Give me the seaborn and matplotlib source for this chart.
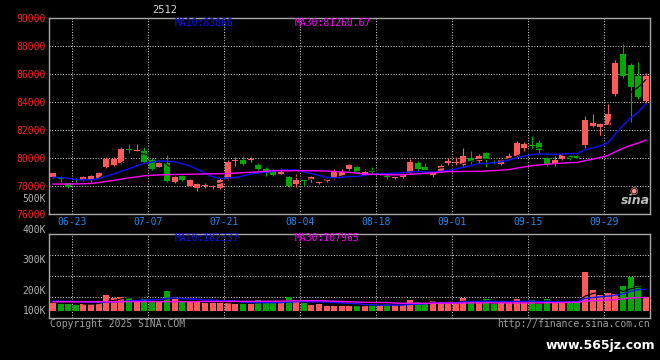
import numpy as np
import pandas as pd
import matplotlib
matplotlib.use("Agg")
import matplotlib.pyplot as plt
import seaborn as sns

# ---------------- data ----------------
opens = [78620, 78590, 78190, 78450, 78430, 78430, 78600, 79380, 79520, 79620,
         80640, 80520, 80520, 79860, 79380, 79670, 78310, 78740, 78020, 77880,
         77980, 77910, 77830, 78500, 79790, 79880, 79880, 79500, 79210, 79140,
         78880, 78640, 78140, 78430, 78430, 78240, 78380, 78550, 78740, 79210,
         79380, 78790, 79020, 78790, 78710, 78580, 78620, 78900, 79620, 79330,
         78810, 79100, 79670, 79620, 79480, 80000, 79810, 80360, 79710, 79570,
         79950, 80140, 80710, 80930, 81070, 80020, 79620, 79930, 80120, 80140,
         80900, 82290, 82240, 82380, 84600, 87430, 86640, 85860, 84050]
highs = [78950, 78710, 78250, 78550, 78740, 78800, 79020, 80050, 80050, 80780,
         81000, 81000, 80790, 79980, 79700, 80220, 78740, 78800, 78500, 78250,
         78200, 78070, 78550, 79830, 80050, 80140, 80050, 79620, 79380, 79200,
         79290, 78790, 78880, 78450, 78680, 78360, 78550, 79190, 79190, 79600,
         79430, 79190, 79330, 78950, 78900, 78670, 78900, 79950, 79810, 79620,
         79050, 79570, 79980, 80050, 80710, 80480, 80290, 80430, 79860, 79950,
         80330, 81240, 81140, 81570, 81290, 80050, 80140, 80330, 80190, 80190,
         83000, 83140, 82520, 83860, 87000, 88140, 86810, 86860, 86050]
lows = [78580, 78260, 77880, 78300, 78350, 78310, 78550, 79310, 79450, 79550,
        80330, 80500, 79700, 79140, 79330, 78260, 78190, 78380, 77980, 77670,
        77840, 77760, 77800, 78450, 79450, 79500, 79700, 79140, 78740, 78740,
        78860, 77930, 77930, 77980, 78310, 78140, 78260, 78480, 78670, 79140,
        78900, 78760, 78950, 78760, 78480, 78480, 78550, 78830, 79020, 79150,
        78670, 79020, 79500, 79430, 79380, 79570, 79620, 79380, 79570, 79500,
        79900, 80100, 80520, 80670, 80330, 79430, 79430, 79860, 79860, 79900,
        80740, 82190, 81600, 82330, 84430, 85740, 82600, 84190, 83900]
closes = [78900, 78500, 77910, 78400, 78670, 78740, 78930, 79950, 79950, 80640,
          80550, 80600, 79740, 79220, 79670, 78380, 78670, 78430, 78430, 78150,
          78020, 77950, 78430, 79740, 79840, 79600, 79920, 79190, 78900, 78790,
          79020, 77980, 78430, 78360, 78640, 78290, 78500, 79070, 79020, 79500,
          78950, 79000, 78980, 78930, 78640, 78620, 78760, 79710, 79190, 79170,
          78980, 79430, 79790, 79710, 80140, 79710, 80140, 79860, 79670, 79860,
          80170, 81070, 81000, 80880, 80570, 79570, 79880, 80210, 79910, 79950,
          82710, 82480, 82430, 83140, 86790, 85880, 85100, 84380, 85860]
# volume, thousands of lots
volumes_k = [64, 58, 58, 50, 55, 60, 83, 132, 107, 116,
             107, 85, 107, 72, 72, 165, 107, 77, 83, 77,
             68, 68, 64, 64, 60, 64, 60, 91, 72, 72,
             72, 116, 91, 68, 50, 58, 44, 44, 44, 44,
             44, 44, 58, 50, 58, 50, 50, 91, 77, 66,
             83, 72, 83, 58, 107, 83, 72, 99, 58, 64,
             72, 99, 72, 91, 58, 99, 64, 77, 72, 72,
             324, 173, 132, 151, 140, 206, 283, 206, 118]
# moving-average values before the windows fill
ma10_head = [78620, 78600, 78550, 78460, 78430, 78450, 78520, 78700, 78870]
ma30_head = [78140, 78140, 78140, 78150, 78160, 78180, 78240, 78330, 78400, 78500,
             78580, 78650, 78730, 78770, 78790, 78810, 78820, 78830, 78840, 78850,
             78860, 78870, 78880, 78900, 78920, 78950, 78980, 79010, 79050]
vol_ma10_head = [80, 80, 80, 78, 74, 72, 72, 73, 75]
vol_ma30_head = [76, 76, 76, 76, 76, 76, 76, 76, 76, 76,
                 77, 77, 77, 77, 77, 77, 77, 77, 77, 77,
                 78, 78, 78, 79, 79, 79, 79, 80, 80]

date_labels = ["06-23", "07-07", "07-21", "08-04", "08-18", "09-01", "09-15", "09-29"]
date_label_idx = [3, 13, 23, 33, 43, 53, 63, 73]
price_ticks = [76000, 78000, 80000, 82000, 84000, 86000, 88000, 90000]
vol_tick_labels = ["400K", "300K", "200K", "100K"]
title_text = "2512"
ma_price_labels = ["MA10:83866", "MA30:81260.67"]
ma_vol_labels = ["MA10:182337", "MA30:107965"]

# ---------------- styling ----------------
RED = "#FF5A5A"
GREEN = "#00A800"
BLUE = "#1010FF"
MAGENTA = "#FF00FF"
FRAME = "#A8A8A8"
GRID = "#C8C8C8"
LABEL_RED = "#FF2020"
DATE_BLUE = "#1E8CF0"
GRAY_TXT = "#B0B0B0"
GRID_LS = (0, (1.0, 1.6))

plt.rcParams["font.family"] = ["DejaVu Sans Mono", "DejaVu Sans"]
plt.rcParams["font.size"] = 7

W, H = 660, 360
fig = plt.figure(figsize=(W / 100, H / 100), dpi=100, facecolor="black")


def px_axes(l, t, r, b):
    return fig.add_axes([l / W, 1 - b / H, (r - l) / W, (b - t) / H])


n = len(closes)
idx = np.arange(n)
df = pd.DataFrame({"idx": idx, "open": opens, "high": highs, "low": lows,
                   "close": closes, "vol": volumes_k})
df["dir"] = np.where(df["close"] >= df["open"], "up", "down")
pal = {"up": RED, "down": GREEN}

ma10 = df["close"].rolling(10).mean().to_numpy()
ma10[:len(ma10_head)] = ma10_head
ma30 = df["close"].rolling(30).mean().to_numpy()
ma30[:len(ma30_head)] = ma30_head
ma5 = df["close"].rolling(5).mean().to_numpy()
vma10 = df["vol"].rolling(10).mean().to_numpy()
vma10[:len(vol_ma10_head)] = vol_ma10_head
vma30 = df["vol"].rolling(30).mean().to_numpy()
vma30[:len(vol_ma30_head)] = vol_ma30_head
vma5 = df["vol"].rolling(5).mean().to_numpy()

grid_x = np.array(date_label_idx) - 0.5


def style_axes(a):
    a.set_facecolor("black")
    for s in a.spines.values():
        s.set_color(FRAME)
        s.set_linewidth(1.0)
    a.tick_params(length=0)
    a.set_xlim(-0.5, n - 0.5)


# ---------------- price panel ----------------
ax = px_axes(49.2, 18, 649.6, 214)
style_axes(ax)
ax.set_ylim(price_ticks[0], price_ticks[-1])
for xv in grid_x:
    ax.axvline(xv, color=GRID, lw=0.75, ls=GRID_LS, zorder=1)
for yv in price_ticks[1:-1]:
    ax.axhline(yv, color=GRID, lw=0.75, ls=GRID_LS, zorder=1)

colors = [pal[d] for d in df["dir"]]
ax.vlines(df["idx"], df["low"], df["high"], colors=colors, lw=0.8, zorder=2)
body_lo = np.minimum(df["open"], df["close"])
body_h = np.maximum(np.abs(df["close"] - df["open"]), 70)
ax.bar(df["idx"], body_h, bottom=body_lo, width=0.8, color=colors, linewidth=0, zorder=3)

sns.lineplot(x=idx, y=ma5, ax=ax, color="black", lw=0.8, zorder=4)
sns.lineplot(x=idx, y=ma10, ax=ax, color=BLUE, lw=1.0, zorder=5)
sns.lineplot(x=idx, y=ma30, ax=ax, color=MAGENTA, lw=1.0, zorder=5)

ax.set_yticks(price_ticks)
ax.set_yticklabels([str(p) for p in price_ticks], color=LABEL_RED, fontsize=7)
ax.tick_params(axis="y", pad=2.5)
ax.set_xticks(grid_x)
ax.set_xticklabels(date_labels, color=DATE_BLUE, fontsize=7)
ax.tick_params(axis="x", pad=2.5)
ax.set_xlabel("")
ax.set_ylabel("")
ax.set_xlim(-0.5, n - 0.5)

ax.text(0.2095, 0.972, ma_price_labels[0], transform=ax.transAxes, color=BLUE,
        fontsize=7, va="center", ha="left")
ax.text(0.409, 0.972, ma_price_labels[1], transform=ax.transAxes, color=MAGENTA,
        fontsize=7, va="center", ha="left")
ax.text(-0.0055, 0.0765, "500K", transform=ax.transAxes, color=GRAY_TXT,
        fontsize=7, va="center", ha="right")

# sina logo
fig.text(634 / W, 1 - 191 / H, "\u25C9", color="#F09090", fontsize=7, ha="center", va="center",
         family="DejaVu Sans")
fig.text(635 / W, 1 - 201 / H, "sina", color="#BBBBBB", fontsize=9, ha="center", va="center",
         style="italic", weight="bold", family="DejaVu Sans")

# ---------------- volume panel ----------------
ax2 = px_axes(49.2, 234, 649.6, 318)
sns.barplot(data=df, x="idx", y="vol", hue="dir", palette=pal, dodge=False,
            native_scale=True, width=0.8, errorbar=None, legend=False,
            saturation=1, linewidth=0, ax=ax2, zorder=2)
style_axes(ax2)
vol_lo, vol_hi = -58, 635
ax2.set_ylim(vol_lo, vol_hi)
for xv in grid_x:
    ax2.axvline(xv, color=GRID, lw=0.75, ls=GRID_LS, zorder=1)
for yv in np.linspace(vol_lo, vol_hi, 5)[1:4]:
    ax2.axhline(yv, color=GRID, lw=0.75, ls=GRID_LS, zorder=1)
sns.lineplot(x=idx, y=vma5, ax=ax2, color="black", lw=0.8, zorder=4)
sns.lineplot(x=idx, y=vma10, ax=ax2, color=BLUE, lw=1.0, zorder=5)
sns.lineplot(x=idx, y=vma30, ax=ax2, color=MAGENTA, lw=1.0, zorder=5)
ax2.set_xticks([])
ax2.set_yticks([])
ax2.set_xlabel("")
ax2.set_ylabel("")
ax2.set_xlim(-0.5, n - 0.5)

for lab, fy in zip(vol_tick_labels, [1.042, 0.685, 0.327, 0.083]):
    ax2.text(-0.0055, fy, lab, transform=ax2.transAxes, color=GRAY_TXT,
             fontsize=7, va="center", ha="right")
ax2.text(0.2095, 0.952, ma_vol_labels[0], transform=ax2.transAxes, color=BLUE,
         fontsize=7, va="center", ha="left")
ax2.text(0.409, 0.952, ma_vol_labels[1], transform=ax2.transAxes, color=MAGENTA,
         fontsize=7, va="center", ha="left")

# ---------------- header / footer ----------------
fig.text(165 / W, 1 - 10 / H, title_text, color="#D8D8D8", fontsize=7.5,
         ha="center", va="center")
fig.text(50 / W, 1 - 324 / H, "Copyright 2025 SINA.COM", color="#A0A0A0",
         fontsize=7, ha="left", va="center")
fig.text(649.5 / W, 1 - 324 / H, "http://finance.sina.com.cn", color="#A0A0A0",
         fontsize=7, ha="right", va="center")
fig.text(600 / W, 1 - 345 / H, "www.565jz.com", color="white", fontsize=9,
         ha="center", va="center", weight="bold", family="DejaVu Sans")

fig.savefig("out.png", dpi=100, facecolor="black")
